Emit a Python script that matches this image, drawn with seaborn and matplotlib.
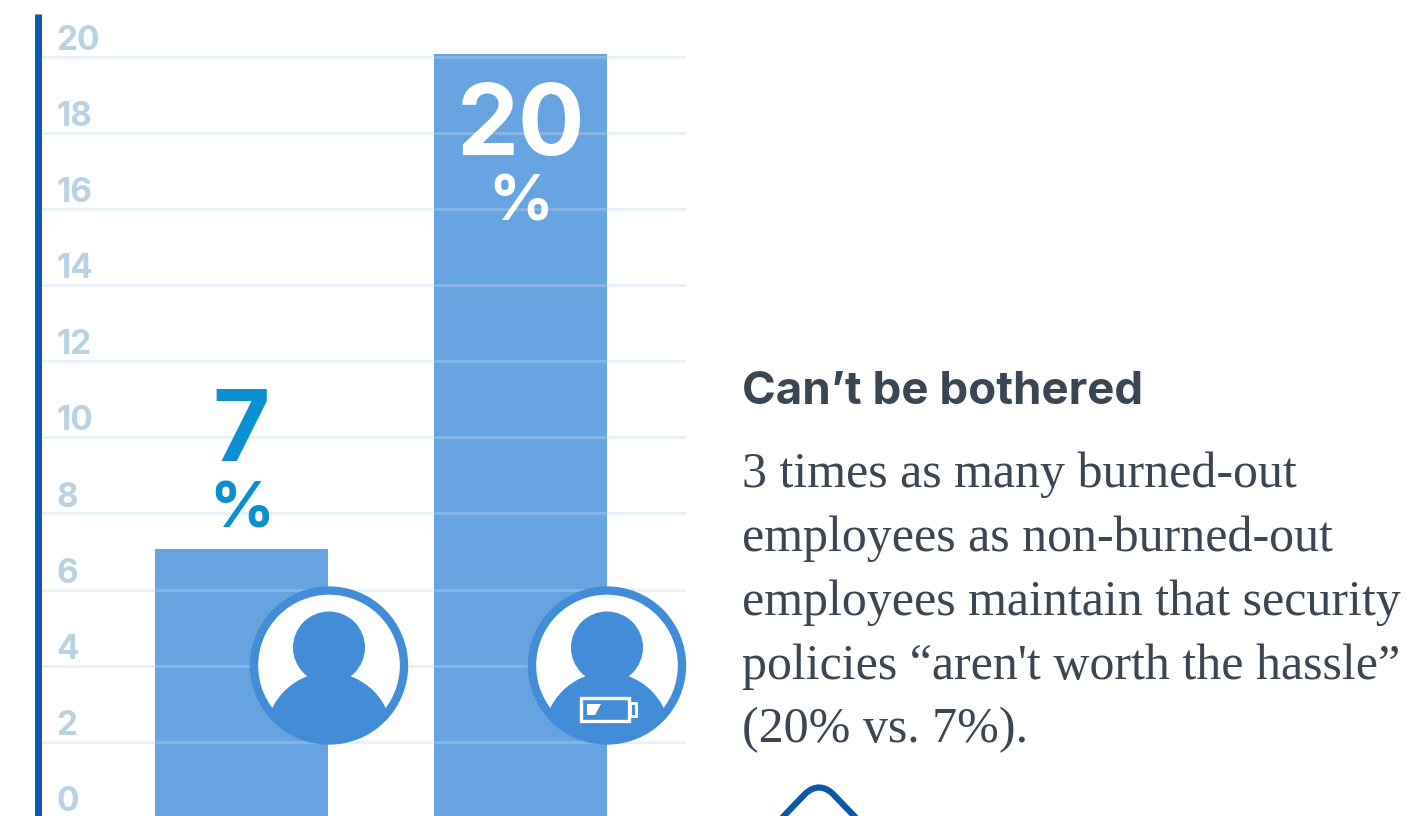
import matplotlib
matplotlib.use("Agg")
import matplotlib.pyplot as plt
import pandas as pd
import seaborn as sns
from matplotlib.patches import Circle, Rectangle, Polygon, PathPatch
from matplotlib.path import Path

groups = ["Non-burned-out", "Burned-out"]
shares = [7, 20]
y_ticks = [0, 2, 4, 6, 8, 10, 12, 14, 16, 18, 20]
heading = "Can’t be bothered"
body_lines = [
    "3 times as many burned-out",
    "employees as non-burned-out",
    "employees maintain that security",
    "policies “aren't worth the hassle”",
    "(20% vs. 7%).",
]

W, H = 1414, 816
BAR = "#66A3E0"
ICON = "#428CD8"
NAVY = "#0B57A8"
TICK = "#B9D2E2"
INK = "#3A4652"
CYAN = "#0A8FD0"
SANS = ["Inter", "Lato", "DejaVu Sans"]

sns.set_theme(style="white")
plt.rcParams["font.family"] = SANS

fig = plt.figure(figsize=(W / 100, H / 100), dpi=100, facecolor="white")

# Bars get their own scale, with zero on the lower edge of the figure
ax = fig.add_axes([38 / W, 0, (686 - 38) / W, (816 - 14) / H])
frame = pd.DataFrame({"group": groups, "share": shares})
sns.barplot(data=frame, x="group", y="share", color=BAR, saturation=1,
            width=0.62, ax=ax, linewidth=0, edgecolor="none")
ax.set_xlabel("")
ax.set_ylabel("")
ax.set_xticks([])
ax.set_yticks([])
ax.set_xlim(-0.7294, 1.593)
ax.set_ylim(0, 21.05)
ax.patch.set_alpha(0)
for spine in ax.spines.values():
    spine.set_visible(False)

# The ruled scale sits on a twin axis whose zero falls just under the edge
rules = ax.twinx()
rules.set_yticks(y_ticks)
rules.set_yticklabels([])
rules.set_ylim(0.0525, 21.12)
rules.tick_params(length=0)
rules.patch.set_alpha(0)
for name in ("top", "right", "bottom", "left"):
    rules.spines[name].set_visible(False)
rules.spines["left"].set_visible(True)
rules.spines["left"].set_color(NAVY)
rules.spines["left"].set_linewidth(5.0)
rules.spines["left"].set_capstyle("butt")
rules.spines["left"].set_zorder(5)

# Pale rules run across the bars as well as the background
rules.yaxis.grid(True, color="#C3D8E7", alpha=0.33, linewidth=2.2, zorder=3)
rules.xaxis.grid(False)

for tick in y_ticks:
    rules.annotate(str(tick), xy=(0, tick), xycoords=("axes fraction", "data"),
                   xytext=(13, 5), textcoords="offset points", color=TICK,
                   fontsize=24, fontweight="bold", ha="left", va="baseline",
                   zorder=4, annotation_clip=False)

# Value labels: number with a percent sign underneath
value_styles = [
    {"color": CYAN, "num_dy": 65.3, "pct_dy": 17.6},
    {"color": "white", "num_dy": -70.6, "pct_dy": -118},
]
for i, (value, style) in enumerate(zip(shares, value_styles)):
    rules.annotate(str(value), xy=(i, value), xytext=(0, style["num_dy"]),
                   textcoords="offset points", ha="center", va="baseline",
                   color=style["color"], fontsize=71, fontweight="bold", zorder=6)
    rules.annotate("%", xy=(i, value), xytext=(0, style["pct_dy"]),
                   textcoords="offset points", ha="center", va="baseline",
                   color=style["color"], fontsize=46, fontweight="bold", zorder=6)

# Overlay in pixel coordinates for the avatars and the text column
over = fig.add_axes([0, 0, 1, 1], zorder=10)
over.set_xlim(0, W)
over.set_ylim(H, 0)
over.axis("off")
over.patch.set_alpha(0)


def avatar(cx, cy=665.5):
    over.add_patch(Circle((cx, cy), 75, facecolor="white", edgecolor=ICON, linewidth=6.0))
    clip = Circle((cx, cy), 75, transform=over.transData)
    over.add_patch(Circle((cx, cy - 18), 36, facecolor=ICON, edgecolor="none"))
    body = Circle((cx, cy + 70), 63, facecolor=ICON, edgecolor="none")
    over.add_patch(body)
    body.set_clip_path(clip)


avatar(329)
avatar(607)

# Low-battery badge on the second avatar
over.add_patch(Rectangle((580.5, 697.5), 48, 23, facecolor="none", edgecolor="white", linewidth=2.4))
over.add_patch(Rectangle((630, 703), 6, 13, facecolor="none", edgecolor="white", linewidth=2.0))
over.add_patch(Polygon([(587, 704), (601, 704), (595, 715), (587, 715)], facecolor="white", edgecolor="none"))

# Chevron cut off by the lower edge
chevron = Path(
    [(778, 822), (806, 793), (819, 782), (832, 793), (860, 822)],
    [Path.MOVETO, Path.LINETO, Path.CURVE3, Path.CURVE3, Path.LINETO],
)
over.add_patch(PathPatch(chevron, facecolor="none", edgecolor=NAVY, linewidth=4.5, capstyle="round"))

over.text(742, 404, heading, color=INK, fontsize=32.9, fontweight="bold", ha="left", va="baseline")
for baseline, line in zip([486.5, 550.5, 614.5, 678.5, 742.5], body_lines):
    over.text(742, baseline, line, color=INK, fontsize=36, family="Liberation Serif",
              ha="left", va="baseline")

fig.savefig("out.png", dpi=100)
